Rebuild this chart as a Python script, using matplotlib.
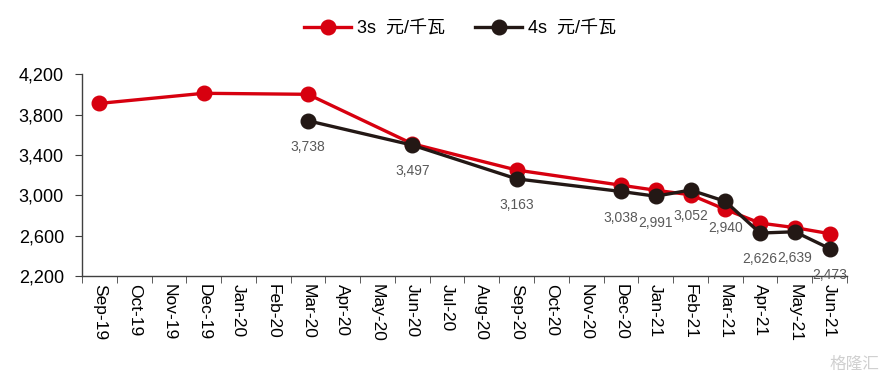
import numpy as np
import matplotlib
matplotlib.use("Agg")
import matplotlib.pyplot as plt
from matplotlib.ticker import FixedLocator, FuncFormatter

plt.rcParams['font.family'] = ['Liberation Sans', 'Noto Sans CJK SC', 'DejaVu Sans']

months = ["Sep-19", "Oct-19", "Nov-19", "Dec-19", "Jan-20", "Feb-20", "Mar-20", "Apr-20",
          "May-20", "Jun-20", "Jul-20", "Aug-20", "Sep-20", "Oct-20", "Nov-20", "Dec-20",
          "Jan-21", "Feb-21", "Mar-21", "Apr-21", "May-21", "Jun-21"]
nan = np.nan
s3 = [3910, nan, nan, 4010, nan, nan, 4000, nan, nan, 3510, nan, nan, 3250, nan, nan, 3100,
      3050, 3005, 2860, 2725, 2680, 2620]
s4 = [nan, nan, nan, nan, nan, nan, 3738, nan, nan, 3497, nan, nan, 3163, nan, nan, 3038,
      2991, 3052, 2940, 2626, 2639, 2473]
series_names = ["3s  元/千瓦", "4s  元/千瓦"]
yticks = [2200, 2600, 3000, 3400, 3800, 4200]

red = "#D7000F"
dark = "#231815"

fig = plt.figure(figsize=(8.93, 3.84), dpi=100)
ax = fig.add_axes([0.0918, 0.281, 0.8567, 0.526])

x = np.arange(len(months))
a3 = np.array(s3, dtype=float)
a4 = np.array(s4, dtype=float)
m3 = ~np.isnan(a3)
m4 = ~np.isnan(a4)
ax.plot(x[m3], a3[m3], color=red, lw=2.4, marker='o', ms=10.5, label=series_names[0], zorder=3)
ax.plot(x[m4], a4[m4], color=dark, lw=2.4, marker='o', ms=10.5, label=series_names[1], zorder=4)

for xi, v in zip(x[m4], a4[m4]):
    ax.annotate(f"{int(v):,}", (xi, v), xytext=(0, -19), textcoords='offset points',
                ha='center', va='center', fontsize=10, color="#595959", zorder=5)

ax.set_xlim(-0.5, len(months) - 0.5)
ax.set_ylim(2200, 4200)
ax.yaxis.set_major_locator(FixedLocator(yticks))
ax.yaxis.set_major_formatter(FuncFormatter(lambda v, p: f"{int(v):,}"))
ax.set_xticks(x)
ax.set_xticklabels(months, rotation=270, fontsize=12.5)
ax.set_xticks(np.arange(-0.5, len(months)), minor=True)
ax.tick_params(axis='x', which='major', length=0, pad=6)
ax.tick_params(axis='x', which='minor', length=5, color="#404040", direction='out')
ax.tick_params(axis='y', length=5, color="#404040", labelsize=13, pad=8)
for s in ['top', 'right']:
    ax.spines[s].set_visible(False)
for s in ['left', 'bottom']:
    ax.spines[s].set_color("#404040")
    ax.spines[s].set_linewidth(1.0)

leg = fig.legend(loc='center', bbox_to_anchor=(0.515, 0.925), ncol=2, frameon=False,
                 fontsize=13, handlelength=2.6, columnspacing=1.7, handletextpad=0.3)

fig.text(0.985, 0.03, "格隆汇", ha='right', va='bottom', fontsize=12, color="#d0d0d0",
         family=['Noto Sans CJK SC'])

fig.savefig("out.png", dpi=100)
